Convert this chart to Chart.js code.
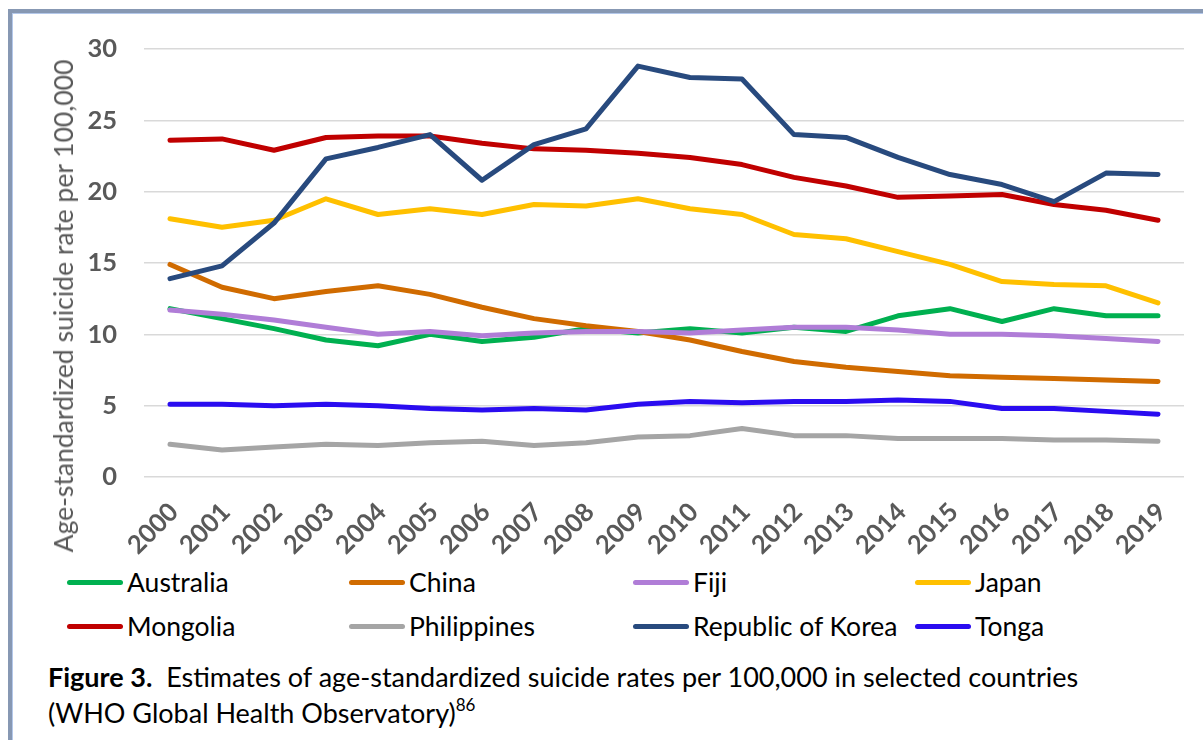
<!DOCTYPE html>
<html>
<head>
<meta charset="utf-8">
<script src="https://cdn.jsdelivr.net/npm/chart.js@4.4.1/dist/chart.umd.min.js"></script>
<style>
  html, body { margin: 0; padding: 0; background: #fff; width: 1203px; height: 740px; overflow: hidden;
    font-family: Lato, "Open Sans", sans-serif; }
  #frame { position: absolute; left: 8px; top: 9px; width: 1300px; height: 900px;
    border-left: 4px solid #8798b3; border-top: 4px solid #8798b3; box-shadow: inset 1px 1px 0 #b4c8ea; }
  #chartBox { position: absolute; left: 0; top: 0; width: 1203px; height: 560px; }
  #ytitle { position: absolute; left: 63px; top: 306px; transform: translate(-50%, -50%) rotate(-90deg);
    white-space: nowrap; color: #595959; font-size: 26.5px; }
  .legend-item { position: absolute; height: 44px; display: flex; align-items: center; font-size: 26.5px; color: #000; white-space: nowrap; }
  .swatch { width: 56px; height: 5px; border-radius: 3px; margin-right: 4px; }
  #caption { position: absolute; left: 48px; top: 659px; font-size: 27px; line-height: 36px; color: #000; white-space: nowrap; }
  #caption b { font-weight: bold; }
  #caption sup { font-size: 17px; line-height: 0; position: relative; top: -2px; vertical-align: super; }
</style>
</head>
<body>
<div id="frame"></div>
<div id="chartBox"><canvas id="chart" width="1203" height="560"></canvas></div>
<div id="ytitle">Age-standardized suicide rate per 100,000</div>
<div id="legend"></div>
<div id="caption"><b>Figure 3.</b>&nbsp; Estimates of age-standardized suicide rates per 100,000 in selected countries<br>(WHO Global Health Observatory)<sup>86</sup></div>

<script>
// Years on the horizontal axis
const years = ['2000','2001','2002','2003','2004','2005','2006','2007','2008','2009',
               '2010','2011','2012','2013','2014','2015','2016','2017','2018','2019'];

// Age-standardized suicide rates per 100,000, by country
const australia   = [11.8, 11.1, 10.4, 9.6, 9.2, 10.0, 9.5, 9.8, 10.4, 10.1, 10.4, 10.1, 10.5, 10.2, 11.3, 11.8, 10.9, 11.8, 11.3, 11.3];
const china       = [14.9, 13.3, 12.5, 13.0, 13.4, 12.8, 11.9, 11.1, 10.6, 10.2, 9.6, 8.8, 8.1, 7.7, 7.4, 7.1, 7.0, 6.9, 6.8, 6.7];
const fiji        = [11.7, 11.4, 11.0, 10.5, 10.0, 10.2, 9.9, 10.1, 10.2, 10.2, 10.1, 10.3, 10.5, 10.5, 10.3, 10.0, 10.0, 9.9, 9.7, 9.5];
const japan       = [18.1, 17.5, 18.0, 19.5, 18.4, 18.8, 18.4, 19.1, 19.0, 19.5, 18.8, 18.4, 17.0, 16.7, 15.8, 14.9, 13.7, 13.5, 13.4, 12.2];
const mongolia    = [23.6, 23.7, 22.9, 23.8, 23.9, 23.9, 23.4, 23.0, 22.9, 22.7, 22.4, 21.9, 21.0, 20.4, 19.6, 19.7, 19.8, 19.1, 18.7, 18.0];
const philippines = [2.3, 1.9, 2.1, 2.3, 2.2, 2.4, 2.5, 2.2, 2.4, 2.8, 2.9, 3.4, 2.9, 2.9, 2.7, 2.7, 2.7, 2.6, 2.6, 2.5];
const korea       = [13.9, 14.8, 17.8, 22.3, 23.1, 24.0, 20.8, 23.3, 24.4, 28.8, 28.0, 27.9, 24.0, 23.8, 22.4, 21.2, 20.5, 19.3, 21.3, 21.2];
const tonga       = [5.1, 5.1, 5.0, 5.1, 5.0, 4.8, 4.7, 4.8, 4.7, 5.1, 5.3, 5.2, 5.3, 5.3, 5.4, 5.3, 4.8, 4.8, 4.6, 4.4];

// Value axis ticks
const yTicks = [0, 5, 10, 15, 20, 25, 30];

const series = [
  { label: 'Australia',          data: australia,   color: '#00b050' },
  { label: 'China',              data: china,       color: '#d06b00' },
  { label: 'Fiji',               data: fiji,        color: '#b07dd7' },
  { label: 'Japan',              data: japan,       color: '#ffc000' },
  { label: 'Mongolia',           data: mongolia,    color: '#c00000' },
  { label: 'Philippines',        data: philippines, color: '#a5a5a5' },
  { label: 'Republic of Korea',  data: korea,       color: '#284a7e' },
  { label: 'Tonga',              data: tonga,       color: '#2a0cf0' }
];

const tickFont = { family: 'Lato, "Open Sans", sans-serif', size: 25.5, weight: 'bold' };

const chart = new Chart(document.getElementById('chart'), {
  type: 'line',
  data: {
    labels: years,
    datasets: series.map((s, i) => ({
      label: s.label,
      data: s.data,
      borderColor: s.color,
      backgroundColor: s.color,
      borderWidth: 5,
      borderCapStyle: 'round',
      borderJoinStyle: 'round',
      pointRadius: 0,
      tension: 0,
      fill: false,
      order: series.length - i   // later series drawn on top
    }))
  },
  options: {
    responsive: false,
    animation: false,
    layout: { padding: { top: 49, right: 19, left: 0, bottom: 0 } },
    plugins: { legend: { display: false }, tooltip: { enabled: false } },
    scales: {
      x: {
        type: 'category',
        offset: true,
        grid: { display: false, drawTicks: false },
        border: { display: false },
        ticks: { autoSkip: false, minRotation: 45, maxRotation: 45, padding: 20, labelOffset: 4,
                 font: tickFont, color: '#595959' },
        afterFit(scale) { scale.height = 560 - 477; }
      },
      y: {
        min: 0, max: 30,
        afterBuildTicks(scale) { scale.ticks = yTicks.map(v => ({ value: v })); },
        grid: { color: '#d9d9d9', lineWidth: 1.5, drawTicks: false },
        border: { display: false },
        ticks: { padding: 27, font: tickFont, color: '#595959' },
        afterFit(scale) { scale.width = 144; }
      }
    }
  }
});

// Legend: four columns, two rows, built from the chart's datasets
const legend = document.getElementById('legend');
const colX = [67, 349, 633, 915];
const rowY = [582, 626];
chart.data.datasets.forEach((ds, i) => {
  const item = document.createElement('div');
  item.className = 'legend-item';
  item.style.left = colX[i % 4] + 'px';
  item.style.top = (rowY[Math.floor(i / 4)] - 22) + 'px';
  const sw = document.createElement('span');
  sw.className = 'swatch';
  sw.style.background = ds.borderColor;
  const txt = document.createElement('span');
  txt.textContent = ds.label;
  item.appendChild(sw);
  item.appendChild(txt);
  legend.appendChild(item);
});
</script>
</body>
</html>
